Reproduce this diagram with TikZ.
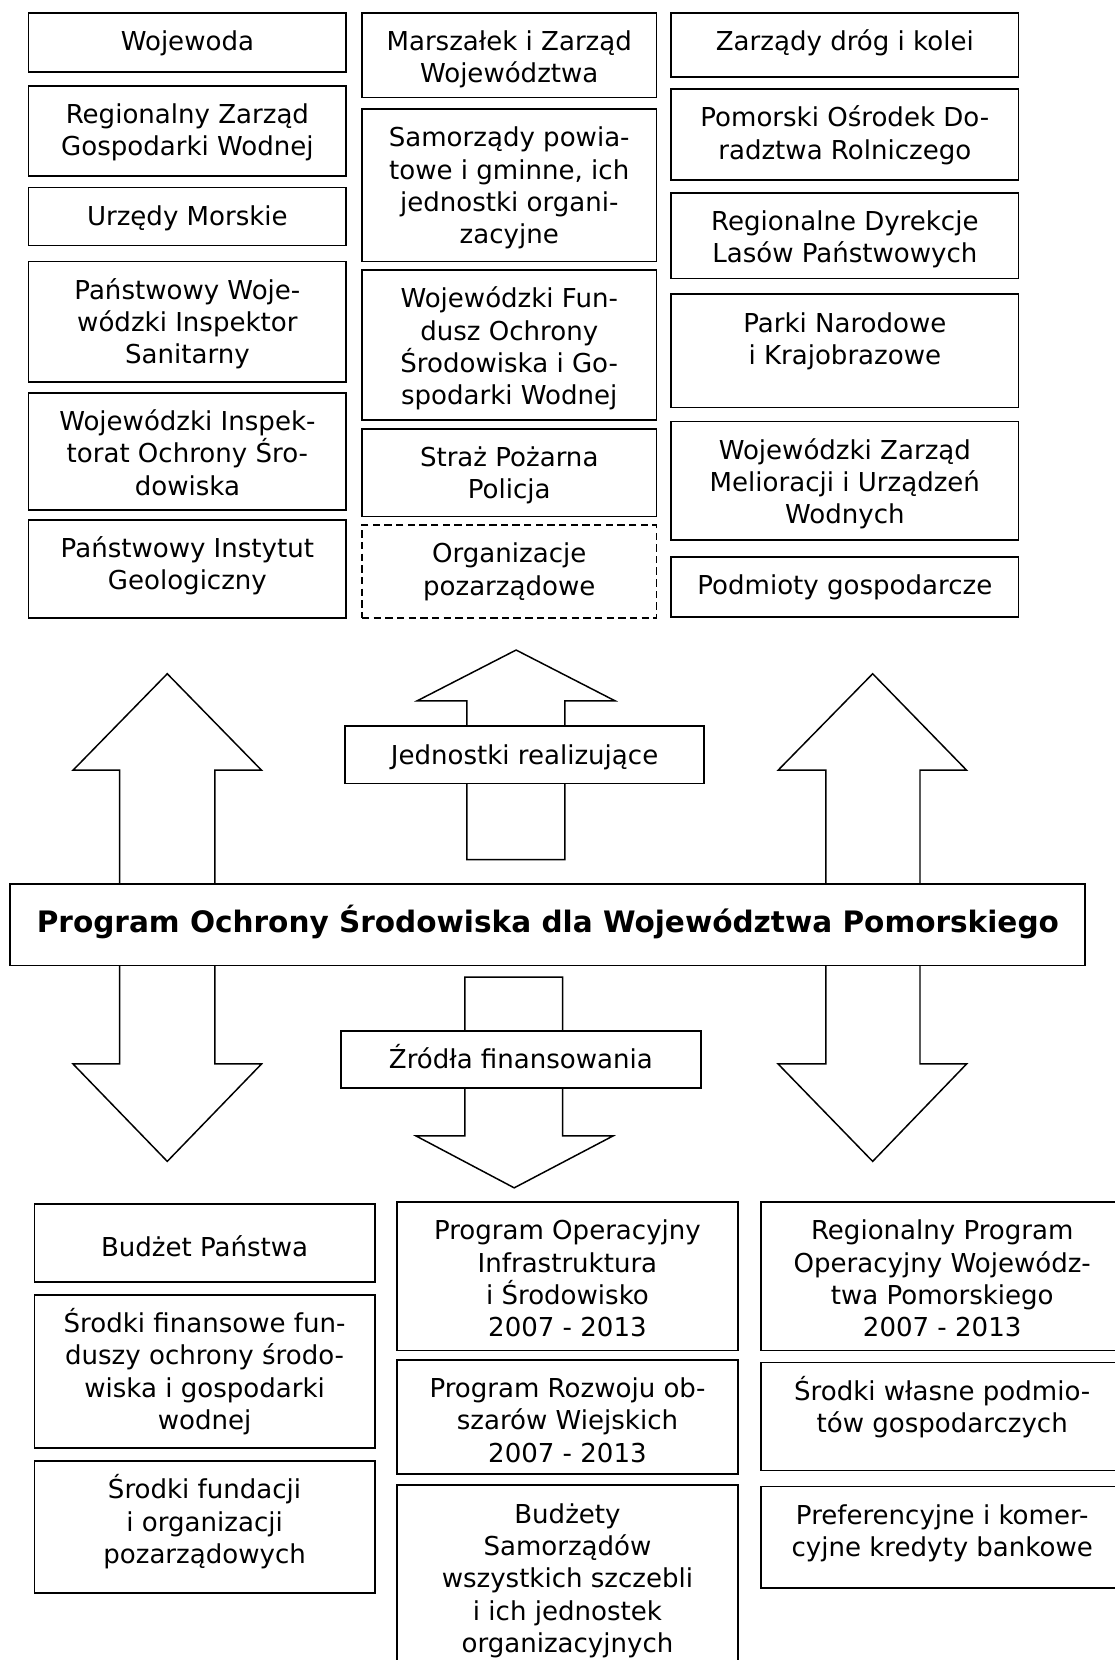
\documentclass[tikz,border=0pt]{standalone}
\usepackage{fontspec}
\setmainfont{DejaVu Sans}
\newcommand\mybox[7][box]{%
  \node[#1, minimum width={#5-#3}, minimum height={#6-#4}] (#2) at ({(#3+#5)/2},{-(#4+#6)/2}) {};
  \node[txt] (#2-t) at ({(#3+#5)/2},{-(#4+10.5)}) {\rule{0pt}{25pt}#7};
}
\begin{document}
\begin{tikzpicture}[x=1pt,y=1pt,
  box/.style={draw, line width=1.6pt, fill=white, inner sep=0pt, outer sep=0pt},
  dbox/.style={box, dash pattern=on 7pt off 4pt},
  txt/.style={anchor=north, align=center, inner sep=0pt, font=\fontsize{24.6}{30.5}\selectfont},
  arr/.style={draw, line width=1.4pt, fill=white, line join=miter},
]
\useasboundingbox (0,0) rectangle (1053,-1568);
\fill[white] (0,0) rectangle (1053,-1568);

% ---- top left column
\mybox{w1}{27}{12}{327}{68}{Wojewoda}
\mybox{w2}{27}{81}{327}{166}{Regionalny Zarząd\\Gospodarki Wodnej}
\mybox{w3}{27}{177}{327}{232}{Urzędy Morskie}
\mybox{w4}{27}{247}{327}{361}{Państwowy Woje-\\wódzki Inspektor\\Sanitarny}
\mybox{w5}{27}{371}{327}{482}{Wojewódzki Inspek-\\torat Ochrony Śro-\\dowiska}
\mybox{w6}{27}{491}{327}{584}{Państwowy Instytut\\Geologiczny}

% ---- top middle column
\mybox{m1}{342}{12}{620}{92}{Marszałek i Zarząd\\Województwa}
\mybox{m2}{342}{103}{620}{247}{Samorządy powia-\\towe i gminne, ich\\jednostki organi-\\zacyjne}
\mybox{m3}{342}{255}{620}{397}{Wojewódzki Fun-\\dusz Ochrony\\Środowiska i Go-\\spodarki Wodnej}
\mybox{m4}{342}{405}{620}{488}{Straż Pożarna\\Policja}
\mybox[dbox]{m5}{342}{496}{620}{584}{Organizacje\\pozarządowe}

% ---- top right column
\mybox{r1}{634}{12}{962}{73}{Zarządy dróg i kolei}
\mybox{r2}{634}{84}{962}{170}{Pomorski Ośrodek Do-\\radztwa Rolniczego}
\mybox{r3}{634}{182}{962}{263}{Regionalne Dyrekcje\\Lasów Państwowych}
\mybox{r4}{634}{278}{962}{385}{Parki Narodowe\\i Krajobrazowe}
\mybox{r5}{634}{398}{962}{510}{Wojewódzki Zarząd\\Melioracji i Urządzeń\\Wodnych}
\mybox{r6}{634}{526}{962}{583}{Podmioty gospodarcze}

% ---- block arrows
\draw[arr] (113,-835) -- (113,-727.5) -- (69,-727.5) -- (158,-636.4) -- (247,-727.5) -- (203,-727.5) -- (203,-835);
\draw[arr] (113,-912) -- (113,-1005) -- (69,-1005) -- (158,-1097) -- (247,-1005) -- (203,-1005) -- (203,-912);
\draw[arr] (780,-835) -- (780,-727.5) -- (735,-727.5) -- (824.3,-636.4) -- (913,-727.5) -- (869,-727.5) -- (869,-835);
\draw[arr] (780,-912) -- (780,-1005) -- (735,-1005) -- (824.3,-1097) -- (913,-1005) -- (869,-1005) -- (869,-912);
\draw[arr] (441,-812) -- (441,-662) -- (394,-662) -- (487.5,-614) -- (581,-662) -- (533.5,-662) -- (533.5,-812) -- cycle;
\draw[arr] (439,-923) -- (439,-1073) -- (393,-1073) -- (485.7,-1122) -- (579,-1073) -- (531.5,-1073) -- (531.5,-923) -- cycle;

% ---- labels on the middle arrows
\mybox{jr}{326}{686}{665}{740}{Jednostki realizujące}
\mybox{zf}{322}{974}{662}{1028}{Źródła finansowania}

% ---- main programme box
\node[box, minimum width={1025-9.4}, minimum height={912-835}] (prog) at ({(9.4+1025)/2},{-(835+912)/2}) {};
\node[anchor=base, inner sep=0pt, font=\fontsize{27.9}{33}\selectfont\bfseries] (prog-t) at (517.5,-881)
  {Program Ochrony Środowiska dla Województwa Pomorskiego};

% ---- bottom left column
\node[box, minimum width={354-32.5}, minimum height={1211-1137}] (b1) at ({(32.5+354)/2},{-(1137+1211)/2}) {};
\node[anchor=base, inner sep=0pt, font=\fontsize{24.6}{30.5}\selectfont] (b1-t) at ({(32.5+354)/2},-1187) {Budżet Państwa};
\mybox{b2}{32.5}{1223}{354}{1368}{Środki finansowe fun-\\duszy ochrony środo-\\wiska i gospodarki\\wodnej}
\mybox{b3}{32.5}{1380}{354}{1505}{Środki fundacji\\i organizacji\\pozarządowych}

% ---- bottom middle column
\mybox{c1}{375}{1135.5}{697}{1275.5}{Program Operacyjny\\Infrastruktura\\i Środowisko\\2007 - 2013}
\mybox{c2}{375}{1284.5}{697}{1392}{Program Rozwoju ob-\\szarów Wiejskich\\2007 - 2013}
\mybox{c3}{375}{1403}{697}{1580}{Budżety\\Samorządów\\wszystkich szczebli\\i ich jednostek\\organizacyjnych}

% ---- bottom right column
\mybox{d1}{719}{1135.5}{1061}{1275.5}{Regionalny Program\\Operacyjny Wojewódz-\\twa Pomorskiego\\2007 - 2013}
\mybox{d2}{719}{1287}{1061}{1389}{Środki własne podmio-\\tów gospodarczych}
\mybox{d3}{719}{1404}{1061}{1500}{Preferencyjne i komer-\\cyjne kredyty bankowe}
\end{tikzpicture}
\end{document}
